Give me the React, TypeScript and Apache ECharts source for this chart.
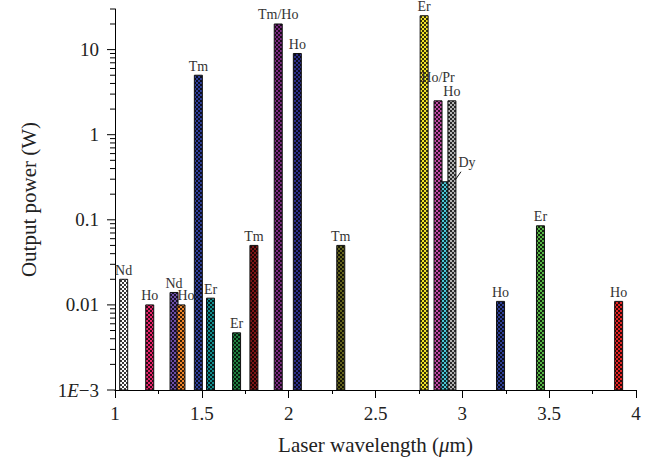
import React, { useEffect, useRef } from 'react';
import * as echarts from 'echarts';

// Laser lines: wavelength (µm), output power (W), ion label, bar colour
const wavelengths = [1.05, 1.2, 1.34, 1.38, 1.48, 1.55, 1.7, 1.8, 1.94, 2.05, 2.3, 2.78, 2.86, 2.9, 2.94, 3.22, 3.45, 3.9];
const powers = [0.02, 0.01, 0.014, 0.01, 5.0, 0.012, 0.0047, 0.05, 20, 9, 0.05, 25, 2.5, 0.28, 2.5, 0.011, 0.085, 0.011];
const ions = ['Nd', 'Ho', 'Nd', 'Ho', 'Tm', 'Er', 'Er', 'Tm', 'Tm/Ho', 'Ho', 'Tm', 'Er', 'Ho/Pr', 'Dy', 'Ho', 'Ho', 'Er', 'Ho'];
const barColors = ['#ffffff', '#e8256a', '#6e4fa8', '#f0862a', '#2f3f9a', '#138c8c', '#1f7f40', '#7c1616', '#7a2a80', '#2c2e86', '#62621c', '#f2e32a', '#c24aa6', '#4cc6d6', '#b4b4b4', '#2e3f94', '#56b545', '#e52424'];

const xTicks = { min: 1, max: 4, interval: 0.5 };
const yRange = { min: 0.001, max: 30 };
const yMajorTicks = [0.001, 0.01, 0.1, 1, 10];
const yMinorMantissas = [2, 3, 4, 5, 6, 7, 8, 9];

const FONT = '"Liberation Serif", "Times New Roman", serif';

function makePattern(color: string) {
  const c = document.createElement('canvas');
  c.width = 4;
  c.height = 4;
  const ctx = c.getContext('2d')!;
  ctx.fillStyle = color;
  ctx.fillRect(0, 0, 4, 4);
  ctx.fillStyle = 'rgba(0,0,0,0.78)';
  ctx.fillRect(0, 0, 2, 2);
  ctx.fillRect(2, 2, 2, 2);
  return { image: c.toDataURL(), repeat: 'repeat', imageWidth: 4, imageHeight: 4 };
}

export default function App() {
  const ref = useRef<HTMLDivElement>(null);
  useEffect(() => {
    if (!ref.current) return;
    const chart = echarts.init(ref.current, undefined, { renderer: 'svg' });
    const patterns = barColors.map(makePattern);

    const minorTicks: number[] = [];
    yMajorTicks.forEach((p) => {
      yMinorMantissas.forEach((m) => {
        const v = m * p;
        if (v <= yRange.max * 1.0001) minorTicks.push(v);
      });
    });
    const tickData = yMajorTicks.map((v) => [xTicks.min, v, 1]).concat(minorTicks.map((v) => [xTicks.min, v, 0]));

    const barData = wavelengths.map((w, i) => [w, powers[i]]);

    chart.setOption({
      animation: false,
      backgroundColor: '#ffffff',
      grid: { left: 115, right: 12, top: 9, bottom: 71, containLabel: false },
      xAxis: {
        type: 'value',
        min: xTicks.min,
        max: xTicks.max,
        interval: xTicks.interval,
        name: 'Laser wavelength ({i|μ}m)',
        nameLocation: 'middle',
        nameGap: 44,
        nameTextStyle: {
          fontFamily: FONT,
          fontSize: 21,
          color: '#222',
          rich: { i: { fontFamily: FONT, fontSize: 21, fontStyle: 'italic', color: '#222' } },
        },
        axisLine: { show: true, lineStyle: { color: '#000', width: 1 } },
        axisTick: { show: true, length: 8, inside: false, lineStyle: { color: '#000' } },
        minorTick: { show: true, splitNumber: 2, length: 4, lineStyle: { color: '#000' } },
        axisLabel: { fontFamily: FONT, fontSize: 19, color: '#222', margin: 14 },
        splitLine: { show: false },
      },
      yAxis: {
        type: 'log',
        logBase: 10,
        min: yRange.min,
        max: yRange.max,
        name: 'Output power (W)',
        nameLocation: 'middle',
        nameGap: 76,
        nameTextStyle: { fontFamily: FONT, fontSize: 21, color: '#222' },
        axisLine: { show: true, lineStyle: { color: '#000', width: 1 } },
        axisTick: { show: false },
        splitLine: { show: false },
        axisLabel: {
          fontFamily: FONT,
          fontSize: 19,
          color: '#222',
          margin: 16,
          formatter: (v: number) => {
            const l = Math.log10(v);
            const e = Math.round(l);
            if (Math.abs(l - e) > 1e-6) return '';
            if (e === -3) return '1{i|E}−3';
            if (e < 0) return (Math.pow(10, e)).toFixed(-e);
            return String(Math.pow(10, e));
          },
          rich: { i: { fontFamily: FONT, fontSize: 19, fontStyle: 'italic', color: '#222' } },
        },
      },
      series: [
        {
          type: 'custom',
          name: 'yticks',
          silent: true,
          data: tickData,
          encode: { x: 0, y: 1 },
          renderItem: (params: any, api: any) => {
            const p = api.coord([api.value(0), api.value(1)]);
            const len = api.value(2) ? 8 : 5;
            return {
              type: 'line',
              shape: { x1: p[0] - len, y1: p[1], x2: p[0], y2: p[1] },
              style: { stroke: '#000', lineWidth: 1 },
            };
          },
          z: 3,
        },
        {
          type: 'custom',
          name: 'bars',
          data: barData,
          encode: { x: 0, y: 1 },
          clip: false,
          renderItem: (params: any, api: any) => {
            const i = params.dataIndex;
            const x = api.value(0);
            const y = api.value(1);
            const top = api.coord([x, y]);
            const base = api.coord([x, yRange.min]);
            const w = 8;
            const label = ions[i];
            const children: any[] = [
              {
                type: 'rect',
                shape: { x: top[0] - w / 2, y: top[1], width: w, height: base[1] - top[1] },
                style: { fill: patterns[i], stroke: '#111', lineWidth: 1 },
              },
            ];
            const textStyle = { fontFamily: FONT, fontSize: 14, fill: '#333', align: 'center', verticalAlign: 'bottom' };
            if (label === 'Dy') {
              children.push({
                type: 'line',
                shape: { x1: top[0] + 16, y1: top[1] - 10, x2: top[0] + 2, y2: top[1] + 10 },
                style: { stroke: '#111', lineWidth: 1 },
              });
              children.push({
                type: 'text',
                x: top[0] + 22,
                y: top[1] - 12,
                style: { ...textStyle, text: label },
              });
            } else {
              let dx = 0;
              let dy = 0;
              if (label === 'Ho/Pr') dy = -14;
              if (i === 3) dx = 5;
              children.push({
                type: 'text',
                x: top[0] + dx,
                y: top[1] - 2 + dy,
                style: { ...textStyle, text: label },
              });
            }
            return { type: 'group', children };
          },
          z: 2,
        },
      ],
    });
    return () => chart.dispose();
  }, []);
  return <div ref={ref} style={{ position: 'fixed', left: 0, top: 0, width: 648, height: 461 }} />;
}
